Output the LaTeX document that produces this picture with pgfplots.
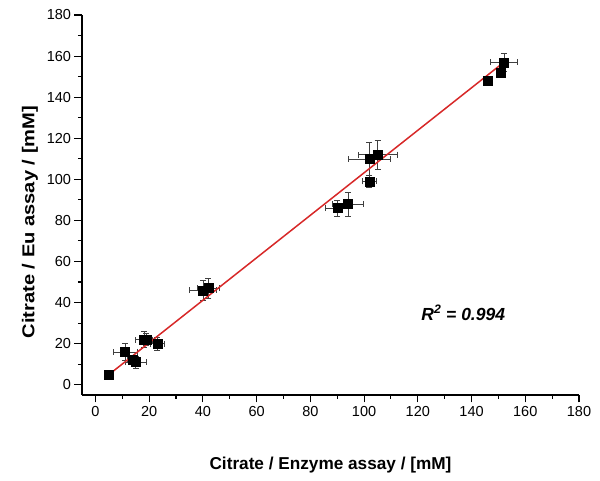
\documentclass[border=0pt]{standalone}
\usepackage{fontspec}
\setmainfont{Liberation Sans}
\usepackage{pgfplots}
\pgfplotsset{compat=1.18}
\definecolor{fitred}{RGB}{215,40,40}

\pgfplotstableread{
x   y    ex   ey
5   5    0.8  0.8
11  16   4.5  4.3
14  12   2.0  2.0
15  11   4.0  3.0
18  22   3.0  4.0
19  22   2.0  3.0
23  20   2.5  3.0
40  46   5.0  5.0
42  47   4.0  5.0
90  86   4.3  3.8
94  88   5.8  5.8
102 99   2.7  3.0
102 110  7.8  8.1
105 112  7.2  7.2
146 148  1.0  1.0
151 152  1.5  1.5
152 157  5.0  4.5
}\citdata

\begin{document}
\begin{tikzpicture}
\begin{axis}[
  name=ax,
  scale only axis,
  width=497pt, height=380pt,
  xmin=-5, xmax=180, ymin=-5, ymax=180,
  axis lines=left,
  axis line style={line width=1.4pt, -},
  xtick={0,20,...,180}, ytick={0,20,...,180},
  minor xtick={10,30,...,170}, minor ytick={10,30,...,170},
  tick align=outside,
  major tick length=7.5pt, minor tick length=4pt,
  tick style={line width=1.1pt, black},
  tick label style={font=\fontsize{14.5}{16}\selectfont},
  /pgf/number format/assume math mode=true,
  xlabel={Citrate / Enzyme assay / [mM]},
  ylabel={Citrate / Eu assay / [mM]},
  every axis x label/.style={at={(axis description cs:0.5,-0.184)}, anchor=center,
    font=\fontsize{17.2}{19}\selectfont\bfseries},
  every axis y label/.style={at={(axis description cs:-0.1046,0.455)}, anchor=center,
    rotate=90, xscale=1.17, font=\fontsize{17.2}{19}\selectfont\bfseries},
  clip=false,
]
\addplot[black, only marks, mark=none,
  error bars/.cd, x dir=both, x explicit, y dir=both, y explicit,
  error bar style={line width=0.55pt, black!75},
  error mark options={mark size=3pt, line width=0.55pt, black!75, rotate=90}]
  table[x=x, y=y, x error=ex, y error=ey] {\citdata};
\addplot[fitred, line width=1.5pt, no marks] coordinates {(4.5,4.4) (153,158)};
\addplot[black, only marks, mark=square*, mark size=4.5pt] table[x=x, y=y] {\citdata};
\node[font=\fontsize{17.5}{19}\selectfont\bfseries\itshape, anchor=center] at (axis cs:136.9,35) {R\textsuperscript{2} = 0.994};
\end{axis}
\pgfresetboundingbox
\path[use as bounding box] ([xshift=-82pt, yshift=-86pt]ax.south west) rectangle ([xshift=518pt, yshift=395pt]ax.south west);
\end{tikzpicture}
\end{document}
